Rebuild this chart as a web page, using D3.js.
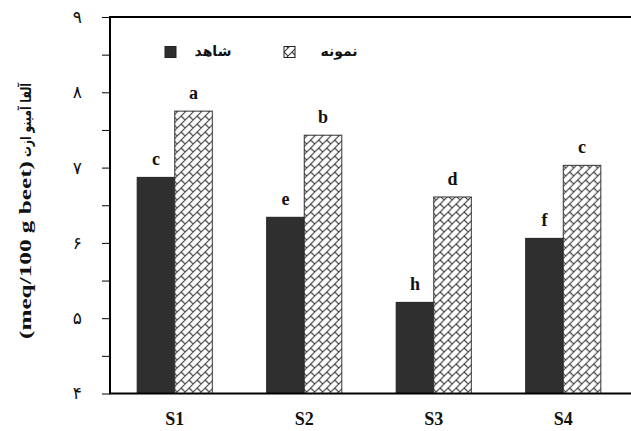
<!DOCTYPE html>
<html>
<head>
<meta charset="utf-8">
<script src="https://cdn.jsdelivr.net/npm/d3@7"></script>
<style>
  html, body { margin: 0; padding: 0; background: #fff; }
  svg { display: block; }
</style>
</head>
<body>
<svg id="chart" width="631" height="431"></svg>
<script>
const categories = ["S1", "S2", "S3", "S4"];
const seriesNames = ["شاهد", "نمونه"];
const controlValues = [6.87, 6.34, 5.21, 6.06];
const sampleValues = [7.75, 7.43, 6.61, 7.03];
const controlLetters = ["c", "e", "h", "f"];
const sampleLetters = ["a", "b", "d", "c"];
const yTicks = [4, 5, 6, 7, 8, 9];
const yMinorTicks = [4.5, 5.5, 6.5, 7.5, 8.5];
const yTitleEn = "(meq/100 g beet)";
const yTitleFa = "آلفا آمینو ازت";

const faDigits = "۰۱۲۳۴۵۶۷۸۹";
const toFa = n => String(n).replace(/\d/g, d => faDigits[+d]);

const svg = d3.select("#chart");
const mLeft = 110, mRight = 628, mTop = 17, mBottom = 393.5;

const defs = svg.append("defs");
const pat = defs.append("pattern")
  .attr("id", "brick").attr("patternUnits", "userSpaceOnUse")
  .attr("width", 8).attr("height", 8);
pat.append("rect").attr("width", 8).attr("height", 8).attr("fill", "#fff");
pat.append("path")
  .attr("d", "M-1,9 L9,-1 M-1,1 L1,-1 M7,9 L9,7 M4,4 L8,8")
  .attr("stroke", "#3a3a3a").attr("stroke-width", 1.1).attr("fill", "none");

const y = d3.scaleLinear().domain([4, 9]).range([mBottom, mTop]);
const x0 = d3.scaleBand().domain(categories).range([mLeft, mRight])
  .paddingInner(0.42).paddingOuter(0.21);
const x1 = d3.scaleBand().domain(seriesNames).range([0, x0.bandwidth()]);

const data = categories.map((c, i) => ({
  cat: c,
  vals: [
    { s: seriesNames[0], v: controlValues[i], l: controlLetters[i] },
    { s: seriesNames[1], v: sampleValues[i], l: sampleLetters[i] }
  ]
}));

const fills = { [seriesNames[0]]: "#2f2f2f", [seriesNames[1]]: "url(#brick)" };

const g = svg.append("g");
const groups = g.selectAll("g.grp").data(data).join("g")
  .attr("transform", d => `translate(${x0(d.cat)},0)`);

groups.selectAll("rect").data(d => d.vals).join("rect")
  .attr("x", d => x1(d.s))
  .attr("y", d => y(d.v))
  .attr("width", x1.bandwidth())
  .attr("height", d => y(4) - y(d.v))
  .attr("fill", d => fills[d.s])
  .attr("stroke", d => d.s === seriesNames[1] ? "#333" : "#222")
  .attr("stroke-width", 1);

groups.selectAll("text").data(d => d.vals).join("text")
  .attr("x", d => x1(d.s) + x1.bandwidth() / 2)
  .attr("y", d => y(d.v) - 12)
  .attr("text-anchor", "middle")
  .attr("font-family", "'Liberation Serif', 'Times New Roman', serif")
  .attr("font-weight", "bold")
  .attr("font-size", 18)
  .attr("fill", "#111")
  .text(d => d.l);

// frame
svg.append("rect")
  .attr("x", mLeft).attr("y", mTop)
  .attr("width", 700).attr("height", mBottom - mTop)
  .attr("fill", "none").attr("stroke", "#000").attr("stroke-width", 2);

// y axis
const yAxis = d3.axisLeft(y).tickValues(yTicks).tickSize(8).tickPadding(20)
  .tickFormat(toFa);
const ya = svg.append("g").attr("transform", `translate(${mLeft},0)`).call(yAxis);
ya.select(".domain").remove();
ya.selectAll("line").attr("stroke", "#000").attr("stroke-width", 1);
ya.selectAll("text")
  .attr("font-family", "'DejaVu Sans', sans-serif")
  .attr("font-weight", "normal")
  .attr("font-size", 17)
  .attr("fill", "#111");

const yMinor = d3.axisLeft(y).tickValues(yMinorTicks).tickSize(8).tickFormat("");
const ym = svg.append("g").attr("transform", `translate(${mLeft},0)`).call(yMinor);
ym.select(".domain").remove();
ym.selectAll("line").attr("stroke", "#000").attr("stroke-width", 1);

// x axis labels
const xAxis = d3.axisBottom(x0).tickSize(0).tickPadding(19);
const xa = svg.append("g").attr("transform", `translate(0,${mBottom})`).call(xAxis);
xa.select(".domain").remove();
xa.selectAll("text")
  .attr("font-family", "'Liberation Serif', 'Times New Roman', serif")
  .attr("font-weight", "bold")
  .attr("font-size", 18)
  .attr("fill", "#111");

// y title
const yt = svg.append("g").attr("transform", "translate(31,0) rotate(-90)");
yt.append("text")
  .attr("x", -250).attr("y", 0)
  .attr("text-anchor", "middle")
  .attr("font-family", "'Liberation Serif', 'Times New Roman', serif")
  .attr("font-weight", "bold")
  .attr("font-size", 17)
  .attr("textLength", 178).attr("lengthAdjust", "spacingAndGlyphs")
  .attr("fill", "#111")
  .text(yTitleEn);
yt.append("text")
  .attr("x", -120).attr("y", 0)
  .attr("text-anchor", "middle")
  .attr("font-family", "'DejaVu Sans', sans-serif")
  .attr("font-weight", "bold")
  .attr("font-size", 15)
  .attr("textLength", 74).attr("lengthAdjust", "spacingAndGlyphs")
  .attr("fill", "#111")
  .text(yTitleFa);

// legend
const legend = [
  { s: seriesNames[0], bx: 165, tx: 213 },
  { s: seriesNames[1], bx: 284, tx: 339 }
];
const lg = svg.append("g");
lg.selectAll("rect").data(legend).join("rect")
  .attr("x", d => d.bx).attr("y", 46.5)
  .attr("width", 11).attr("height", 11)
  .attr("fill", d => fills[d.s])
  .attr("stroke", "#222").attr("stroke-width", 1);
lg.selectAll("text").data(legend).join("text")
  .attr("x", d => d.tx).attr("y", 56)
  .attr("text-anchor", "middle")
  .attr("font-family", "'DejaVu Sans', sans-serif")
  .attr("font-weight", "bold")
  .attr("font-size", 14)
  .attr("fill", "#111")
  .text(d => d.s);
</script>
</body>
</html>
